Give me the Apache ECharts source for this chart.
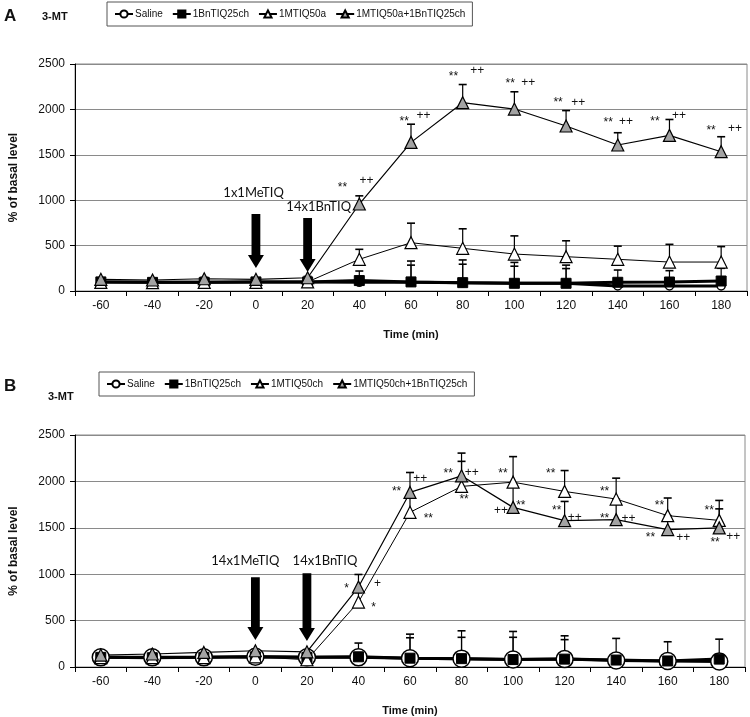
<!DOCTYPE html>
<html><head><meta charset="utf-8">
<script src="https://cdn.jsdelivr.net/npm/echarts@6/dist/echarts.min.js"></script>
<style>html,body{margin:0;padding:0;background:#fff}#c{width:750px;height:717px}</style>
</head><body><div id="c"></div>
<script>
// ---------- DATA ----------
const categories = ['-60','-40','-20','0','20','40','60','80','100','120','140','160','180'];
const yTicks = [0, 500, 1000, 1500, 2000, 2500];

// Panel A
const salineA   = [100, 95, 95, 100, 100, 95, 95, 90, 85, 85, 55, 55, 55];
const bnA       = [100, 95, 95, 100, 100, 115, 100, 92, 85, 85, 96, 99, 110];
const mtA       = [95, 92, 95, 95, 100, 349, 532, 470, 407, 378, 349, 319, 319];
const comboA    = [129, 121, 135, 129, 146, 958, 1637, 2074, 2004, 1817, 1608, 1714, 1534];
const salineErrA = [15, 15, 15, 15, 15, 20, 190, 205, 188, 162, 20, 20, 20];
const bnErrA     = [15, 15, 15, 15, 15, 105, 230, 250, 230, 200, 135, 125, 140];
const mtErrA     = [15, 15, 15, 15, 15, 110, 215, 215, 200, 175, 145, 195, 170];
const comboErrA  = [15, 15, 15, 15, 15, 90, 200, 200, 190, 170, 135, 175, 165];
// annotations: [time (min), value, text]
const annA = [
  [33.5, 1140, '**'], [42.8, 1211, '++'],
  [57.4, 1860, '**'], [64.8, 1927, '++'],
  [76.4, 2365, '**'], [85.6, 2423, '++'],
  [98.4, 2280, '**'], [105.4, 2291, '++'],
  [116.9, 2070, '**'], [124.7, 2070, '++'],
  [136.3, 1850, '**'], [143.2, 1861, '++'],
  [154.4, 1860, '**'], [163.7, 1927, '++'],
  [176.1, 1770, '**'], [185.4, 1784, '++']
];
// arrows: [time, top value, tip value]
const arrowsA = [[0, 848, 253], [20, 804, 209]];
const arrowLabelsA = [[-0.9, 1079, '1x1MeTIQ'], [24.3, 925, '14x1BnTIQ']];

// Panel B
const salineB   = [104, 104, 104, 110, 104, 104, 95, 90, 80, 85, 70, 65, 60];
const bnB       = [104, 100, 104, 110, 104, 110, 95, 90, 80, 85, 75, 65, 85];
const mtB       = [100, 100, 100, 110, 78, 700, 1667, 1946, 1992, 1892, 1810, 1631, 1580];
const comboB    = [129, 140, 157, 175, 164, 862, 1881, 2060, 1720, 1577, 1588, 1481, 1499];
const salineErrB = [15, 15, 15, 15, 15, 20, 220, 230, 240, 210, 20, 20, 20];
const bnErrB     = [15, 15, 15, 15, 15, 148, 259, 300, 303, 251, 233, 207, 215];
const mtErrB     = [15, 15, 15, 15, 15, 100, 165, 270, 275, 225, 225, 190, 215];
const comboErrB  = [15, 15, 15, 15, 15, 135, 215, 245, 250, 207, 220, 150, 205];
const annB = [
  [35.4, 845, '*'], [47.4, 901, '+'], [45.9, 640, '*'],
  [54.8, 1885, '**'], [64.0, 2028, '++'], [67.1, 1595, '**'],
  [74.8, 2080, '**'], [84.0, 2092, '++'], [81.0, 1800, '**'],
  [96.1, 2080, '**'], [95.3, 1685, '++'], [103.0, 1735, '**'],
  [114.6, 2080, '**'], [116.9, 1680, '**'], [123.9, 1609, '++'],
  [135.5, 1885, '**'], [135.5, 1595, '**'], [144.8, 1599, '++'],
  [156.8, 1735, '**'], [153.3, 1390, '**'], [166.0, 1395, '++'],
  [176.1, 1680, '**'], [178.4, 1340, '**'], [185.4, 1406, '++']
];
const arrowsB = [[0, 966, 290], [20, 1009, 279]];
const arrowLabelsB = [[-3.9, 1148, '14x1MeTIQ'], [27.0, 1148, '14x1BnTIQ']];

const legendA = ['Saline', '1BnTIQ25ch', '1MTIQ50a', '1MTIQ50a+1BnTIQ25ch'];
const legendB = ['Saline', '1BnTIQ25ch', '1MTIQ50ch', '1MTIQ50ch+1BnTIQ25ch'];

// ---------- HELPERS ----------
const SANS = '"Liberation Sans", Arial, sans-serif';
const CAL = 'Lato, "Open Sans", sans-serif';
function timeToX(api, t, v) {
  const p0 = api.coord([0, v]);
  const p1 = api.coord([1, v]);
  const fi = (t + 60) / 20;
  return [p0[0] + fi * (p1[0] - p0[0]), p0[1]];
}
function errSeries(idx, vals, errs) {
  return {
    type: 'custom', xAxisIndex: idx, yAxisIndex: idx, z: 1, silent: true,
    data: vals.map((v, i) => [i, v, errs[i]]),
    renderItem: function (params, api) {
      const x = api.value(0), v = api.value(1), e = api.value(2);
      const p0 = api.coord([x, v]);
      const p1 = api.coord([x, v + e]);
      return {
        type: 'group', children: [
          { type: 'line', shape: { x1: p0[0], y1: p0[1], x2: p1[0], y2: p1[1] }, style: { stroke: '#000', lineWidth: 1.2 } },
          { type: 'line', shape: { x1: p1[0] - 4, y1: p1[1], x2: p1[0] + 4, y2: p1[1] }, style: { stroke: '#000', lineWidth: 1.6 } }
        ]
      };
    }
  };
}
function textSeries(idx, arr, font, size) {
  return {
    type: 'custom', xAxisIndex: idx, yAxisIndex: idx, z: 5, silent: true,
    data: arr.map(a => [0, a[1]]),
    renderItem: function (params, api) {
      const a = arr[params.dataIndex];
      const p = timeToX(api, a[0], a[1]);
      return {
        type: 'text', x: p[0], y: p[1],
        style: { text: a[2], fill: '#111', font: size + 'px ' + font, align: 'center', verticalAlign: 'middle' }
      };
    }
  };
}
function arrowSeries(idx, arr) {
  return {
    type: 'custom', xAxisIndex: idx, yAxisIndex: idx, z: 6, silent: true,
    data: arr.map(a => [0, a[1]]),
    renderItem: function (params, api) {
      const a = arr[params.dataIndex];
      const top = timeToX(api, a[0], a[1]);
      const tip = timeToX(api, a[0], a[2]);
      const x = top[0], yt = top[1], yp = tip[1];
      const sw = 4.4, hw = 8, hl = 13;
      return {
        type: 'polygon',
        shape: { points: [[x - sw, yt], [x + sw, yt], [x + sw, yp - hl], [x + hw, yp - hl], [x, yp], [x - hw, yp - hl], [x - sw, yp - hl]] },
        style: { fill: '#000' }
      };
    }
  };
}
function lineSeries(name, idx, data, kind, big) {
  const s = { name: name, type: 'line', xAxisIndex: idx, yAxisIndex: idx, data: data, z: 2, animation: false };
  if (kind === 'saline') {
    Object.assign(s, { symbol: 'circle', symbolSize: big ? 17 : 8, lineStyle: { color: '#000', width: 3 },
      itemStyle: { color: '#fff', borderColor: '#000', borderWidth: 1.5 } });
  } else if (kind === 'bn') {
    Object.assign(s, { symbol: 'rect', symbolSize: 10, lineStyle: { color: '#000', width: 3 },
      itemStyle: { color: '#000', borderColor: '#000', borderWidth: 1 } });
  } else if (kind === 'mt') {
    Object.assign(s, { symbol: 'triangle', symbolSize: 12, lineStyle: { color: '#000', width: 1 },
      itemStyle: { color: '#fff', borderColor: '#000', borderWidth: 1.2 } });
  } else {
    Object.assign(s, { symbol: 'triangle', symbolSize: 12, lineStyle: { color: '#000', width: 1.2 },
      itemStyle: { color: '#a3a3a3', borderColor: '#000', borderWidth: 1.2 } });
  }
  return s;
}
function xAxisCfg(idx) {
  return {
    type: 'category', gridIndex: idx, data: categories, boundaryGap: true,
    axisLine: { lineStyle: { color: '#000', width: 1 } },
    axisTick: { show: true, length: 5, lineStyle: { color: '#000' } },
    axisLabel: { color: '#111', fontSize: 12, fontFamily: SANS, margin: 9 },
    name: 'Time (min)', nameLocation: 'middle', nameGap: 38,
    nameTextStyle: { color: '#111', fontSize: 11, fontWeight: 'bold', fontFamily: SANS }
  };
}
function yAxisCfg(idx) {
  return {
    type: 'value', gridIndex: idx, min: yTicks[0], max: yTicks[yTicks.length - 1], interval: 500,
    axisLine: { show: true, lineStyle: { color: '#000', width: 1 } },
    axisTick: { show: true, length: 5, lineStyle: { color: '#000' } },
    axisLabel: { color: '#111', fontSize: 12, fontFamily: SANS, margin: 10, formatter: v => String(v) },
    splitLine: { show: true, lineStyle: { color: '#8a8a8a', width: 1 } },
    name: '% of basal level', nameLocation: 'middle', nameGap: 55,
    nameTextStyle: { color: '#111', fontSize: 12, fontWeight: 'bold', fontFamily: SANS }
  };
}
function legendCfg(data, left, top) {
  return {
    data: data, left: left, top: top, orient: 'horizontal',
    itemWidth: 18, itemHeight: 9, itemGap: 9,
    padding: [7, 7], borderColor: '#555', borderWidth: 1, backgroundColor: '#fff',
    textStyle: { color: '#111', fontSize: 10, fontFamily: SANS, padding: [0, 0, 0, -3] },
    selectedMode: false
  };
}

const option = {
  animation: false,
  backgroundColor: '#fff',
  title: [
    { text: 'A', left: 4, top: 8, padding: 0, textStyle: { fontSize: 17, fontWeight: 'bold', fontFamily: SANS, color: '#111' } },
    { text: '3-MT', left: 42, top: 11, padding: 0, textStyle: { fontSize: 11, fontWeight: 'bold', fontFamily: SANS, color: '#111' } },
    { text: 'B', left: 4, top: 378, padding: 0, textStyle: { fontSize: 17, fontWeight: 'bold', fontFamily: SANS, color: '#111' } },
    { text: '3-MT', left: 48, top: 391, padding: 0, textStyle: { fontSize: 11, fontWeight: 'bold', fontFamily: SANS, color: '#111' } }
  ],
  legend: [legendCfg(legendA, 107, 2), legendCfg(legendB, 99, 372)],
  grid: [
    { left: 74, right: 3, top: 64, bottom: 426, show: true, borderColor: '#8a8a8a', borderWidth: 1 },
    { left: 72, right: 5, top: 435, bottom: 49, show: true, borderColor: '#8a8a8a', borderWidth: 1 }
  ],
  xAxis: [xAxisCfg(0), xAxisCfg(1)],
  yAxis: [yAxisCfg(0), yAxisCfg(1)],
  series: [
    errSeries(0, salineA, salineErrA), errSeries(0, bnA, bnErrA), errSeries(0, mtA, mtErrA), errSeries(0, comboA, comboErrA),
    lineSeries('Saline', 0, salineA, 'saline', false),
    lineSeries('1BnTIQ25ch', 0, bnA, 'bn', false),
    lineSeries('1MTIQ50a', 0, mtA, 'mt', false),
    lineSeries('1MTIQ50a+1BnTIQ25ch', 0, comboA, 'combo', false),
    textSeries(0, annA, SANS, 12),
    arrowSeries(0, arrowsA),
    textSeries(0, arrowLabelsA, CAL, 13),

    errSeries(1, salineB, salineErrB), errSeries(1, bnB, bnErrB), errSeries(1, mtB, mtErrB), errSeries(1, comboB, comboErrB),
    lineSeries('Saline', 1, salineB, 'saline', true),
    lineSeries('1BnTIQ25ch', 1, bnB, 'bn', true),
    lineSeries('1MTIQ50ch', 1, mtB, 'mt', true),
    lineSeries('1MTIQ50ch+1BnTIQ25ch', 1, comboB, 'combo', true),
    textSeries(1, annB, SANS, 12),
    arrowSeries(1, arrowsB),
    textSeries(1, arrowLabelsB, CAL, 13)
  ]
};
const chart = echarts.init(document.getElementById('c'), null, { renderer: 'canvas' });
chart.setOption(option);
</script>
</body></html>
